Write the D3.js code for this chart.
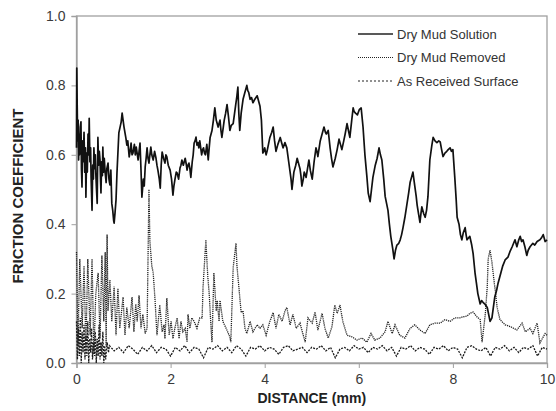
<!DOCTYPE html>
<html>
<head>
<meta charset="utf-8">
<script src="https://cdn.jsdelivr.net/npm/d3@7"></script>
<style>
  body { margin: 0; background: #fff; }
  svg { display: block; font-family: "Liberation Sans", Arial, sans-serif; }
</style>
</head>
<body>
<script>
// values: [distance mm, friction coefficient]
var drySolution = [
  [0.00,0.62],[0.006,0.85],[0.015,0.74],[0.025,0.64],[0.035,0.70],[0.045,0.585],[0.055,0.66],[0.065,0.60],
  [0.08,0.68],[0.095,0.695],[0.105,0.56],[0.117,0.507],[0.13,0.64],[0.145,0.58],[0.16,0.665],[0.175,0.55],
  [0.19,0.62],[0.20,0.478],[0.215,0.605],[0.23,0.55],[0.245,0.66],[0.26,0.60],[0.27,0.705],[0.285,0.58],
  [0.30,0.62],[0.31,0.535],[0.33,0.44],[0.345,0.57],[0.36,0.53],[0.37,0.62],[0.385,0.56],[0.40,0.60],
  [0.41,0.547],[0.425,0.50],[0.44,0.46],[0.455,0.65],[0.47,0.57],[0.485,0.61],[0.50,0.585],[0.51,0.53],
  [0.52,0.49],[0.535,0.58],[0.55,0.54],[0.56,0.622],[0.575,0.55],[0.59,0.59],[0.61,0.547],[0.63,0.52],
  [0.645,0.56],[0.67,0.576],[0.69,0.53],[0.71,0.513],[0.73,0.556],[0.75,0.46],[0.77,0.44],[0.79,0.41],
  [0.80,0.403],[0.82,0.435],[0.84,0.47],[0.86,0.547],[0.90,0.663],[0.95,0.695],[0.97,0.72],[1.01,0.68],
  [1.05,0.648],[1.07,0.628],[1.09,0.64],[1.12,0.594],[1.14,0.61],[1.16,0.634],[1.18,0.60],[1.20,0.605],
  [1.23,0.63],[1.25,0.60],[1.27,0.622],[1.31,0.585],[1.33,0.61],[1.35,0.634],[1.37,0.56],[1.39,0.478],
  [1.42,0.53],[1.44,0.51],[1.46,0.565],[1.48,0.59],[1.50,0.62],[1.52,0.59],[1.54,0.576],[1.56,0.60],
  [1.58,0.622],[1.60,0.60],[1.63,0.585],[1.66,0.61],[1.69,0.59],[1.71,0.57],[1.73,0.556],[1.76,0.53],
  [1.78,0.504],[1.80,0.57],[1.82,0.608],[1.85,0.59],[1.88,0.576],[1.90,0.60],[1.92,0.594],[1.95,0.57],
  [1.99,0.556],[2.02,0.53],[2.05,0.484],[2.07,0.51],[2.09,0.527],[2.12,0.55],[2.14,0.547],[2.17,0.53],
  [2.20,0.562],[2.22,0.57],[2.24,0.585],[2.27,0.57],[2.31,0.59],[2.33,0.575],[2.35,0.556],[2.37,0.57],
  [2.39,0.576],[2.41,0.56],[2.43,0.535],[2.46,0.58],[2.48,0.60],[2.50,0.634],[2.52,0.64],[2.54,0.651],
  [2.56,0.628],[2.58,0.635],[2.60,0.62],[2.62,0.64],[2.64,0.62],[2.66,0.60],[2.68,0.615],[2.70,0.62],
  [2.72,0.605],[2.74,0.60],[2.77,0.63],[2.80,0.585],[2.82,0.62],[2.84,0.65],[2.86,0.66],[2.88,0.67],
  [2.91,0.70],[2.94,0.735],[2.97,0.70],[2.99,0.69],[3.01,0.68],[3.03,0.69],[3.05,0.70],[3.07,0.67],
  [3.09,0.65],[3.12,0.68],[3.14,0.70],[3.17,0.72],[3.20,0.745],[3.23,0.71],[3.26,0.67],[3.29,0.685],
  [3.33,0.69],[3.36,0.72],[3.38,0.74],[3.41,0.77],[3.43,0.795],[3.45,0.72],[3.47,0.67],[3.50,0.72],
  [3.54,0.76],[3.58,0.78],[3.60,0.79],[3.62,0.80],[3.64,0.785],[3.66,0.78],[3.69,0.76],[3.72,0.765],
  [3.75,0.75],[3.79,0.76],[3.84,0.77],[3.87,0.755],[3.90,0.74],[3.93,0.70],[3.96,0.605],[3.98,0.61],
  [4.00,0.62],[4.03,0.60],[4.05,0.61],[4.08,0.63],[4.11,0.65],[4.15,0.665],[4.18,0.68],[4.21,0.64],
  [4.24,0.61],[4.28,0.63],[4.33,0.65],[4.36,0.635],[4.39,0.62],[4.43,0.635],[4.47,0.62],[4.51,0.58],
  [4.54,0.55],[4.56,0.53],[4.58,0.50],[4.62,0.55],[4.66,0.57],[4.69,0.59],[4.72,0.575],[4.75,0.56],
  [4.77,0.54],[4.79,0.51],[4.82,0.53],[4.84,0.55],[4.88,0.535],[4.91,0.56],[4.94,0.585],[4.97,0.555],
  [5.01,0.53],[5.05,0.58],[5.09,0.62],[5.11,0.61],[5.13,0.595],[5.18,0.64],[5.22,0.66],[5.26,0.68],
  [5.29,0.665],[5.31,0.66],[5.35,0.67],[5.37,0.645],[5.39,0.62],[5.42,0.59],[5.45,0.565],[5.50,0.59],
  [5.54,0.615],[5.58,0.645],[5.61,0.63],[5.64,0.615],[5.68,0.64],[5.71,0.66],[5.75,0.69],[5.78,0.67],
  [5.81,0.65],[5.85,0.70],[5.88,0.735],[5.90,0.725],[5.93,0.72],[5.97,0.715],[6.01,0.73],[6.05,0.735],
  [6.09,0.68],[6.13,0.60],[6.17,0.54],[6.20,0.49],[6.24,0.465],[6.27,0.50],[6.30,0.535],[6.35,0.57],
  [6.39,0.59],[6.43,0.62],[6.46,0.60],[6.49,0.585],[6.53,0.53],[6.56,0.48],[6.59,0.46],[6.62,0.44],
  [6.65,0.40],[6.68,0.365],[6.72,0.33],[6.75,0.30],[6.78,0.325],[6.81,0.34],[6.85,0.345],[6.88,0.355],
  [6.91,0.37],[6.94,0.39],[6.98,0.42],[7.02,0.455],[7.06,0.49],[7.09,0.52],[7.12,0.535],[7.15,0.55],
  [7.17,0.53],[7.19,0.51],[7.22,0.48],[7.24,0.455],[7.27,0.43],[7.30,0.405],[7.32,0.43],[7.34,0.45],
  [7.38,0.43],[7.41,0.42],[7.44,0.44],[7.47,0.48],[7.51,0.585],[7.55,0.625],[7.58,0.65],[7.62,0.64],
  [7.66,0.635],[7.70,0.64],[7.73,0.637],[7.76,0.615],[7.79,0.595],[7.83,0.605],[7.87,0.61],[7.90,0.615],
  [7.94,0.62],[7.97,0.61],[8.00,0.615],[8.04,0.535],[8.07,0.47],[8.09,0.42],[8.13,0.40],[8.16,0.37],
  [8.19,0.355],[8.22,0.375],[8.26,0.39],[8.28,0.37],[8.30,0.355],[8.33,0.36],[8.36,0.365],[8.40,0.34],
  [8.43,0.315],[8.47,0.26],[8.50,0.23],[8.53,0.20],[8.58,0.17],[8.61,0.18],[8.64,0.175],[8.68,0.17],
  [8.73,0.16],[8.76,0.14],[8.79,0.12],[8.83,0.13],[8.86,0.16],[8.89,0.19],[8.93,0.21],[8.96,0.23],
  [9.02,0.26],[9.06,0.28],[9.11,0.297],[9.17,0.305],[9.21,0.32],[9.26,0.335],[9.29,0.345],[9.32,0.355],
  [9.36,0.335],[9.40,0.355],[9.43,0.365],[9.46,0.35],[9.49,0.355],[9.53,0.335],[9.57,0.31],[9.60,0.325],
  [9.64,0.335],[9.70,0.345],[9.74,0.34],[9.79,0.35],[9.85,0.355],[9.88,0.36],[9.92,0.37],[9.96,0.35],
  [10.0,0.355]
];

var dryRemoved = [
  [0.00,0.32],[0.03,0.05],[0.07,0.30],[0.12,0.10],[0.16,0.28],[0.20,0.05],[0.24,0.30],[0.29,0.08],
  [0.33,0.30],[0.37,0.03],[0.41,0.20],[0.46,0.26],[0.50,0.07],[0.54,0.31],[0.58,0.12],[0.61,0.32],
  [0.63,0.05],[0.65,0.37],[0.67,0.15],[0.71,0.24],[0.75,0.12],[0.80,0.22],[0.84,0.08],[0.88,0.215],
  [0.92,0.10],[0.99,0.19],[1.03,0.08],[1.07,0.16],[1.12,0.10],[1.18,0.19],[1.22,0.09],[1.26,0.17],
  [1.29,0.12],[1.33,0.195],[1.37,0.10],[1.41,0.14],[1.46,0.085],[1.50,0.10],[1.54,0.50],[1.56,0.35],
  [1.60,0.28],[1.63,0.26],[1.67,0.18],[1.71,0.08],[1.77,0.167],[1.82,0.09],[1.86,0.11],[1.88,0.07],
  [1.92,0.187],[1.97,0.08],[2.01,0.12],[2.05,0.07],[2.09,0.10],[2.14,0.13],[2.18,0.07],[2.22,0.12],
  [2.26,0.09],[2.31,0.10],[2.35,0.06],[2.37,0.14],[2.41,0.10],[2.45,0.13],[2.50,0.12],[2.56,0.10],
  [2.62,0.13],[2.67,0.13],[2.69,0.22],[2.75,0.355],[2.77,0.30],[2.79,0.25],[2.82,0.20],[2.86,0.10],
  [2.88,0.06],[2.92,0.26],[2.97,0.15],[2.99,0.18],[3.03,0.12],[3.05,0.18],[3.11,0.12],[3.18,0.10],
  [3.26,0.075],[3.28,0.06],[3.33,0.275],[3.39,0.345],[3.41,0.28],[3.43,0.25],[3.50,0.145],[3.54,0.15],
  [3.58,0.10],[3.62,0.085],[3.69,0.12],[3.75,0.09],[3.84,0.11],[3.90,0.10],[3.96,0.11],[4.03,0.08],
  [4.11,0.12],[4.18,0.145],[4.24,0.10],[4.30,0.14],[4.37,0.12],[4.43,0.15],[4.47,0.16],[4.54,0.11],
  [4.60,0.14],[4.67,0.10],[4.75,0.115],[4.86,0.06],[4.92,0.13],[5.01,0.115],[5.07,0.147],[5.13,0.095],
  [5.22,0.143],[5.28,0.10],[5.35,0.072],[5.43,0.105],[5.49,0.167],[5.54,0.143],[5.60,0.167],[5.66,0.12],
  [5.75,0.08],[5.86,0.075],[5.96,0.066],[6.07,0.072],[6.17,0.06],[6.26,0.085],[6.34,0.066],[6.45,0.072],
  [6.56,0.09],[6.62,0.12],[6.71,0.085],[6.77,0.11],[6.87,0.08],[6.98,0.072],[7.09,0.10],[7.19,0.11],
  [7.30,0.095],[7.41,0.085],[7.51,0.11],[7.62,0.115],[7.73,0.115],[7.83,0.125],[7.94,0.12],[8.04,0.13],
  [8.15,0.13],[8.21,0.133],[8.30,0.135],[8.36,0.143],[8.43,0.147],[8.51,0.133],[8.58,0.125],[8.62,0.06],
  [8.69,0.143],[8.73,0.22],[8.75,0.30],[8.79,0.325],[8.83,0.29],[8.88,0.23],[8.90,0.21],[8.94,0.16],
  [9.00,0.125],[9.11,0.11],[9.22,0.105],[9.36,0.095],[9.47,0.115],[9.54,0.09],[9.64,0.10],[9.70,0.085],
  [9.79,0.115],[9.85,0.058],[9.96,0.085],[10.0,0.08]
];

var asReceived = [
  [0.00,0.12],[0.02,0.01],[0.04,0.10],[0.06,0.02],[0.08,0.13],[0.10,0.00],[0.12,0.09],[0.14,0.03],
  [0.16,0.11],[0.18,0.01],[0.20,0.08],[0.22,0.02],[0.24,0.12],[0.26,0.00],[0.28,0.07],[0.30,0.03],
  [0.32,0.10],[0.34,0.01],[0.36,0.06],[0.38,0.02],[0.40,0.09],[0.42,0.00],[0.44,0.07],[0.46,0.02],
  [0.48,0.11],[0.50,0.01],[0.52,0.06],[0.54,0.02],[0.56,0.09],[0.58,0.00],[0.60,0.05],[0.62,0.01],
  [0.65,0.06],[0.68,0.03],[0.70,0.05],[0.80,0.035],[0.90,0.045],[1.00,0.03],[1.10,0.05],[1.20,0.04],
  [1.30,0.025],[1.40,0.045],[1.50,0.035],[1.60,0.05],[1.70,0.03],[1.80,0.045],[1.90,0.04],[2.00,0.02],
  [2.10,0.045],[2.20,0.035],[2.30,0.05],[2.40,0.03],[2.50,0.045],[2.60,0.04],[2.70,0.015],[2.80,0.045],
  [2.90,0.04],[3.00,0.05],[3.10,0.035],[3.20,0.045],[3.30,0.03],[3.40,0.05],[3.50,0.04],[3.60,0.02],
  [3.70,0.045],[3.80,0.04],[3.90,0.05],[4.00,0.035],[4.10,0.045],[4.20,0.04],[4.30,0.025],[4.40,0.045],
  [4.50,0.05],[4.60,0.035],[4.70,0.04],[4.80,0.045],[4.90,0.03],[5.00,0.045],[5.10,0.04],[5.20,0.05],
  [5.30,0.035],[5.40,0.045],[5.50,0.015],[5.60,0.04],[5.70,0.045],[5.80,0.035],[5.90,0.05],[6.00,0.04],
  [6.10,0.045],[6.20,0.03],[6.30,0.045],[6.40,0.04],[6.50,0.05],[6.60,0.035],[6.70,0.045],[6.80,0.02],
  [6.90,0.045],[7.00,0.04],[7.10,0.05],[7.20,0.035],[7.30,0.045],[7.40,0.04],[7.50,0.025],[7.60,0.045],
  [7.70,0.04],[7.80,0.05],[7.90,0.035],[8.00,0.045],[8.10,0.04],[8.20,0.015],[8.30,0.045],[8.40,0.05],
  [8.50,0.04],[8.60,0.035],[8.70,0.045],[8.80,0.02],[8.90,0.045],[9.00,0.04],[9.10,0.05],[9.20,0.035],
  [9.30,0.045],[9.40,0.03],[9.50,0.045],[9.60,0.04],[9.70,0.05],[9.80,0.02],[9.90,0.045],[10.0,0.04]
];

var xTicks = [0, 2, 4, 6, 8, 10];
var yTicks = [0, 0.2, 0.4, 0.6, 0.8, 1.0];
var seriesNames = ["Dry Mud Solution", "Dry Mud Removed", "As Received Surface"];

var width = 556, height = 411;
var margin = {top: 16, right: 9, bottom: 48, left: 76.5};

var svg = d3.select("body").append("svg")
    .attr("width", width)
    .attr("height", height);

var x = d3.scaleLinear().domain([0, 10]).range([margin.left, width - margin.right]);
var y = d3.scaleLinear().domain([0, 1]).range([height - margin.bottom, margin.top]);

// frame
svg.append("rect")
    .attr("x", x(0)).attr("y", y(1))
    .attr("width", x(10) - x(0)).attr("height", y(0) - y(1))
    .attr("fill", "none").attr("stroke", "#a0a0a0").attr("stroke-width", 1.3);

var xAxis = svg.append("g")
    .attr("transform", "translate(0," + y(0) + ")")
    .call(d3.axisBottom(x).tickValues(xTicks).tickSize(5).tickPadding(6).tickFormat(d3.format("d")));
var yAxis = svg.append("g")
    .attr("transform", "translate(" + x(0) + ",0)")
    .call(d3.axisLeft(y).tickValues(yTicks).tickSize(5).tickPadding(6).tickFormat(d3.format(".1f")));

[xAxis, yAxis].forEach(function(g){
    g.select(".domain").attr("stroke", "#a0a0a0").attr("stroke-width", 1.3);
    g.selectAll(".tick line").attr("stroke", "#a0a0a0");
    g.selectAll(".tick text").attr("fill", "#3a3a3a").style("font-size", "14px")
        .style("font-family", "'Liberation Sans', Arial, sans-serif");
});

var line = d3.line()
    .x(function(d){ return x(d[0]); })
    .y(function(d){ return y(d[1]); });

var plot = svg.append("g");
plot.append("path").datum(asReceived)
    .attr("d", line).attr("fill", "none")
    .attr("stroke", "#1a1a1a").attr("stroke-width", 1.3).attr("stroke-dasharray", "2,1.2");
plot.append("path").datum(dryRemoved)
    .attr("d", line).attr("fill", "none")
    .attr("stroke", "#222").attr("stroke-width", 1.3).attr("stroke-dasharray", "1.2,0.9");
plot.append("path").datum(drySolution)
    .attr("d", line).attr("fill", "none")
    .attr("stroke", "#111").attr("stroke-width", 1.7).attr("stroke-linejoin", "round");

// legend
var dashes = [null, "1,1", "2,2"];
var legend = svg.append("g");
seriesNames.forEach(function(name, i){
    var ly = 34 + i * 23.5;
    legend.append("line")
        .attr("x1", 358).attr("x2", 393).attr("y1", ly).attr("y2", ly)
        .attr("stroke", "#222").attr("stroke-width", i == 0 ? 1.3 : 1)
        .attr("stroke-dasharray", dashes[i]);
    legend.append("text")
        .attr("x", 397).attr("y", ly).attr("dy", "0.35em")
        .attr("fill", "#333").style("font-size", "13px")
        .text(name);
});

// axis titles
svg.append("text")
    .attr("x", (x(0) + x(10)) / 2).attr("y", 403)
    .attr("text-anchor", "middle")
    .style("font-size", "14px").style("font-weight", "bold").attr("fill", "#222")
    .text("DISTANCE (mm)");
svg.append("text")
    .attr("transform", "translate(23,196) rotate(-90)")
    .attr("text-anchor", "middle")
    .style("font-size", "15px").style("font-weight", "bold").attr("fill", "#222")
    .text("FRICTION COEFFICIENT");
</script>
</body>
</html>
